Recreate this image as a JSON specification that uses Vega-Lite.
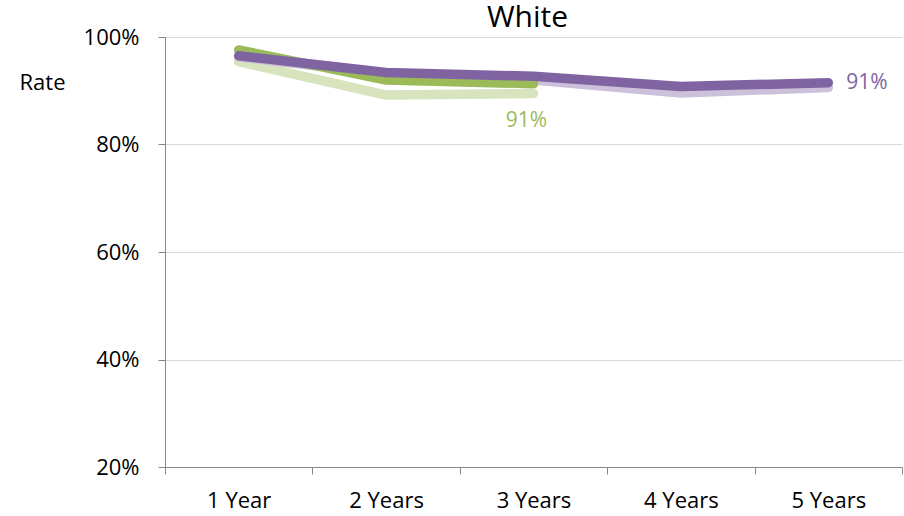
{
  "$schema": "https://vega.github.io/schema/vega-lite/v6.json",
  "autosize": "none",
  "width": 737,
  "height": 430,
  "padding": {"left": 165, "top": 37, "right": 2, "bottom": 49},
  "background": "white",
  "config": {
    "font": "Open Sans",
    "view": {"stroke": null}
  },
  "title": {
    "text": "White",
    "fontSize": 30,
    "fontWeight": "normal",
    "color": "#000000",
    "anchor": "middle",
    "baseline": "bottom",
    "offset": -12,
    "dy": 25,
    "dx": -6
  },
  "data": {
    "values": [
      {"series": "Light green", "year": "1 Year", "rate": 0.954, "label": ""},
      {"series": "Light green", "year": "2 Years", "rate": 0.892, "label": ""},
      {"series": "Light green", "year": "3 Years", "rate": 0.895, "label": ""},
      {"series": "Light purple", "year": "1 Year", "rate": 0.963, "label": ""},
      {"series": "Light purple", "year": "2 Years", "rate": 0.931, "label": ""},
      {"series": "Light purple", "year": "3 Years", "rate": 0.92, "label": ""},
      {"series": "Light purple", "year": "4 Years", "rate": 0.896, "label": ""},
      {"series": "Light purple", "year": "5 Years", "rate": 0.906, "label": ""},
      {"series": "Green", "year": "1 Year", "rate": 0.976, "label": ""},
      {"series": "Green", "year": "2 Years", "rate": 0.92, "label": ""},
      {"series": "Green", "year": "3 Years", "rate": 0.913, "label": "91%"},
      {"series": "Purple", "year": "1 Year", "rate": 0.965, "label": ""},
      {"series": "Purple", "year": "2 Years", "rate": 0.934, "label": ""},
      {"series": "Purple", "year": "3 Years", "rate": 0.927, "label": ""},
      {"series": "Purple", "year": "4 Years", "rate": 0.908, "label": ""},
      {"series": "Purple", "year": "5 Years", "rate": 0.915, "label": "91%"}
    ]
  },
  "encoding": {
    "x": {
      "field": "year",
      "type": "ordinal",
      "sort": null,
      "scale": {"paddingInner": 0, "paddingOuter": 0},
      "axis": {
        "title": null,
        "labelAngle": 0,
        "labelFontSize": 22,
        "labelColor": "#000000",
        "labelPadding": 16,
        "tickBand": "extent",
        "tickSize": 7,
        "tickColor": "#868686",
        "domainColor": "#868686",
        "grid": false
      }
    },
    "y": {
      "field": "rate",
      "type": "quantitative",
      "scale": {"domain": [0.2, 1]},
      "axis": {
        "title": "Rate",
        "titleAngle": 0,
        "titleFontSize": 22,
        "titleFontWeight": "normal",
        "titleColor": "#000000",
        "titleAlign": "center",
        "titleBaseline": "middle",
        "titleX": -123,
        "titleY": 45,
        "values": [0.2, 0.4, 0.6, 0.8, 1.0],
        "format": ".0%",
        "labelFontSize": 22,
        "labelColor": "#000000",
        "labelPadding": 19,
        "tickSize": 7,
        "tickColor": "#868686",
        "domainColor": "#868686",
        "gridColor": "#d9d9d9"
      }
    }
  },
  "layer": [
    {
      "mark": {"type": "line", "strokeWidth": 9.5, "strokeCap": "round", "strokeJoin": "round"},
      "encoding": {
        "color": {
          "field": "series",
          "type": "nominal",
          "legend": null,
          "scale": {
            "domain": ["Light green", "Light purple", "Green", "Purple"],
            "range": ["#d7e4bd", "#ccc1da", "#9bbb59", "#8064a2"]
          }
        }
      }
    },
    {
      "transform": [{"filter": "datum.series == 'Green' && datum.label != ''"}],
      "mark": {"type": "text", "fontSize": 21, "dy": 37, "dx": -7, "align": "center", "color": "#9bbb59"},
      "encoding": {"text": {"field": "label"}}
    },
    {
      "transform": [{"filter": "datum.series == 'Purple' && datum.label != ''"}],
      "mark": {"type": "text", "fontSize": 21, "dx": 18, "align": "left", "color": "#8064a2"},
      "encoding": {"text": {"field": "label"}}
    }
  ]
}
